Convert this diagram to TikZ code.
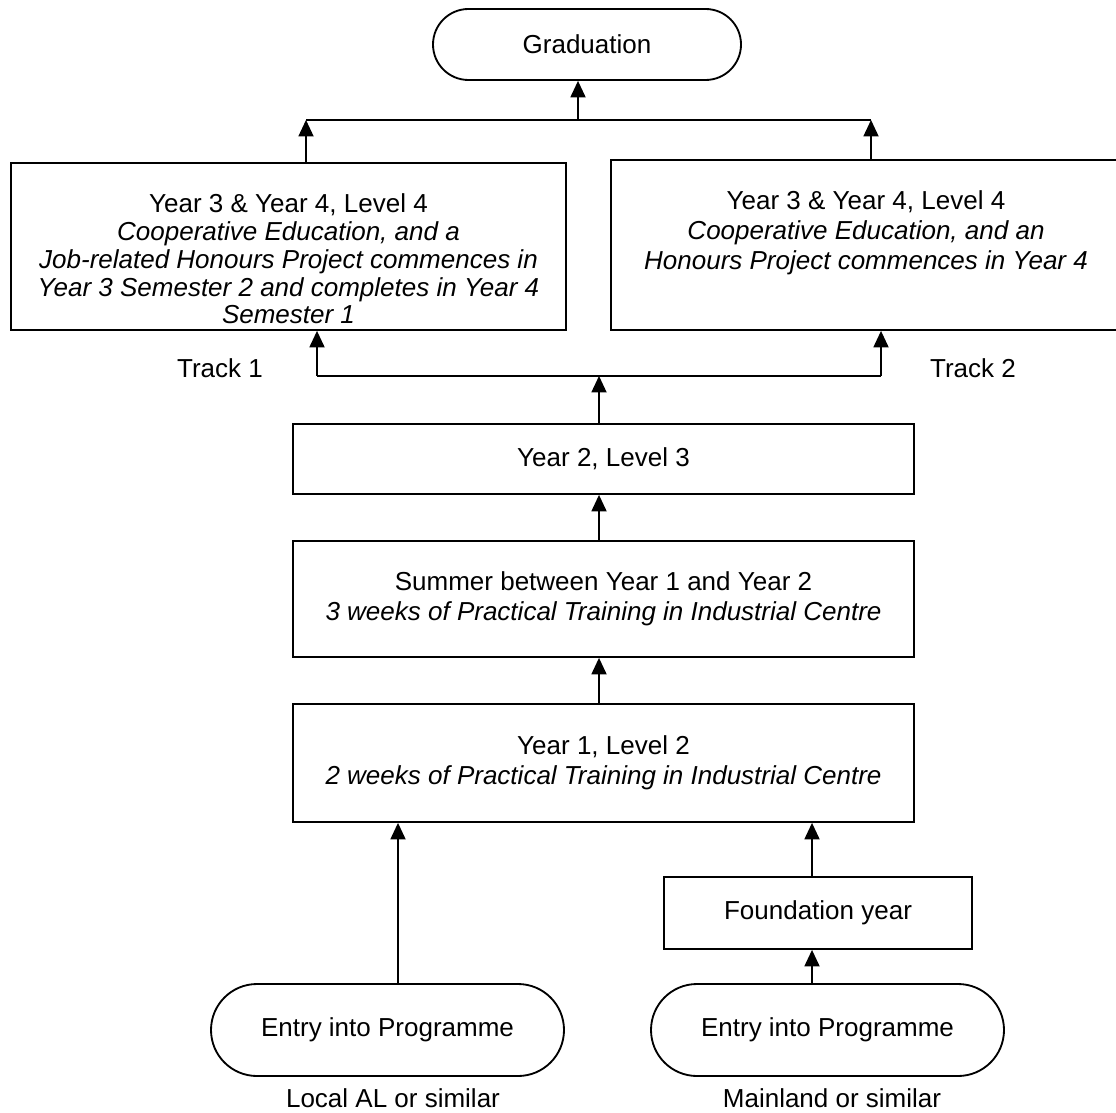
\documentclass[tikz,border=0pt]{standalone}
\usepackage{fontspec}
\setmainfont{Liberation Sans}
\usetikzlibrary{arrows.meta, shapes.misc}
\newlength{\px}
\setlength{\px}{0.4615pt}

\begin{document}
\begin{tikzpicture}[x=0.4615pt, y=-0.4615pt,
    every node/.style={font=\fontsize{12}{13.8}\selectfont},
    stage/.style={draw, line width=0.85pt, rectangle, align=center, inner sep=0pt},
    terminal/.style={draw, line width=0.85pt, rounded rectangle, align=center, inner sep=0pt},
    flow/.style={line width=0.6pt, -{Triangle[length=7.6pt, width=7pt]}}]
    \useasboundingbox (0,0) rectangle (1116,1113);
    % Top of the chart
    \node[terminal, minimum width=308*\px, minimum height=71*\px] (grad) at (587,44.5) {Graduation};
    \node[stage] (trackone) at (288.5,246.5) {\parbox[c][167\px][t]{555\px}{\centering\fontsize{12}{12.8}\selectfont\vspace*{31\px}%
        Year 3 \& Year 4, Level 4\\
        \textit{Cooperative Education, and a}\\
        \textit{Job-related Honours Project commences in}\\
        \textit{Year 3 Semester 2 and completes in Year 4}\\
        \textit{Semester 1}}};
    \node[stage] (tracktwo) at (866,245) {\parbox[c][170\px][t]{510\px}{\centering\vspace*{31\px}%
        Year 3 \& Year 4, Level 4\\
        \textit{Cooperative Education, and an}\\
        \textit{Honours Project commences in Year 4}}};
    \node at (220,368) (trackonelabel) {Track 1};
    \node at (973,368) (tracktwolabel) {Track 2};
    % Years 1 and 2
    \node[stage, minimum width=621*\px, minimum height=70*\px] (yeartwo) at (603.5,459) {Year 2, Level 3};
    \node[stage, minimum width=621*\px, minimum height=116*\px] (summer) at (603.5,599)
        {Summer between Year 1 and Year 2\\ \textit{3 weeks of Practical Training in Industrial Centre}};
    \node[stage, minimum width=621*\px, minimum height=118*\px] (yearone) at (603.5,763)
        {Year 1, Level 2\\ \textit{2 weeks of Practical Training in Industrial Centre}};
    % Entry routes
    \node[stage, minimum width=308*\px, minimum height=72*\px] (foundation) at (818,913) {Foundation year};
    \node[terminal, minimum width=353*\px, minimum height=92*\px] (entrylocal) at (387.5,1030) {\raisebox{4\px}{Entry into Programme}};
    \node[terminal, minimum width=353*\px, minimum height=92*\px] (entrymain) at (827.5,1030) {\raisebox{4\px}{Entry into Programme}};
    \node at (393,1098) (locallabel) {Local AL or similar};
    \node at (832,1098) (mainlabel) {Mainland or similar};
    % Junction points
    \coordinate (gradjoin) at (578,120);
    \coordinate (joinleft) at (306,120);
    \coordinate (joinright) at (871,120);
    \coordinate (trackleft) at (317,376);
    \coordinate (trackright) at (881,376);
    \coordinate (trackmid) at (599,376);
    \coordinate (midx) at (599,0);
    \coordinate (localx) at (398,0);
    \coordinate (mainx) at (812,0);
    % Connectors
    \draw[line width=0.6pt] (joinleft) -- (joinright);
    \draw[flow] (joinleft |- trackone.north) -- (joinleft);
    \draw[flow] (joinright |- tracktwo.north) -- (joinright);
    \draw[flow] (gradjoin) -- (gradjoin |- grad.south);
    \draw[line width=0.6pt] (trackleft) -- (trackright);
    \draw[flow] (trackleft) -- (trackleft |- trackone.south);
    \draw[flow] (trackright) -- (trackright |- tracktwo.south);
    \draw[flow] (midx |- yeartwo.north) -- (trackmid);
    \draw[flow] (midx |- summer.north) -- (midx |- yeartwo.south);
    \draw[flow] (midx |- yearone.north) -- (midx |- summer.south);
    \draw[flow] (localx |- entrylocal.north) -- (localx |- yearone.south);
    \draw[flow] (mainx |- foundation.north) -- (mainx |- yearone.south);
    \draw[flow] (mainx |- entrymain.north) -- (mainx |- foundation.south);
\end{tikzpicture}
\end{document}
